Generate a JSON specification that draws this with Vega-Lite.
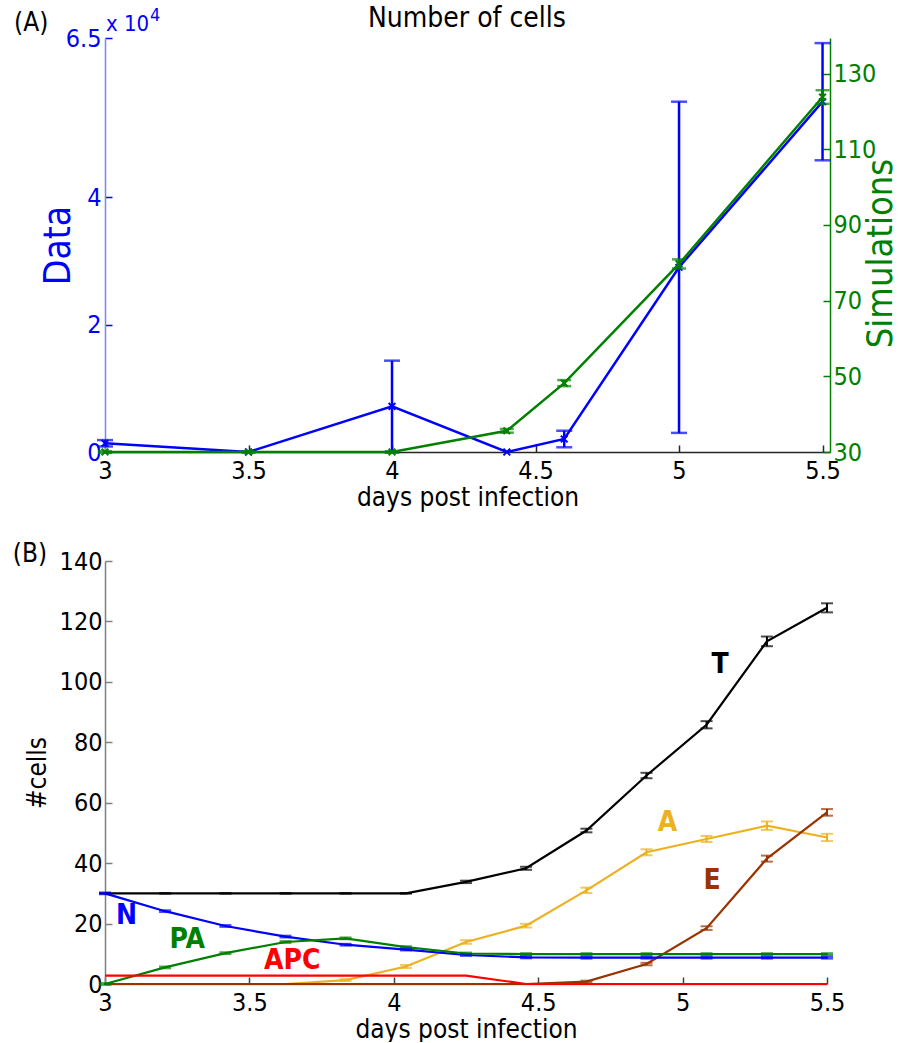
{
  "$schema": "https://vega.github.io/schema/vega-lite/v6.json",
  "background": "white",
  "padding": {"left": 12, "top": 5, "right": 0, "bottom": 0},
  "spacing": 30,
  "config": {
    "font": "DejaVu Sans Condensed, DejaVu Sans",
    "view": {"stroke": null},
    "axis": {
      "grid": false,
      "labelFontSize": 25,
      "titleFontSize": 26,
      "titleFontWeight": "normal",
      "labelColor": "black",
      "titleColor": "black",
      "labelFlush": false,
      "labelOverlap": false,
      "domainWidth": 1.5,
      "tickWidth": 1.5
    }
  },
  "datasets": {
    "obs": [
      {"day": 3, "count": 1370, "sd": 500},
      {"day": 3.5, "count": 0, "sd": 0},
      {"day": 4, "count": 7170, "sd": 7170},
      {"day": 4.4, "count": 0, "sd": 0},
      {"day": 4.6, "count": 2040, "sd": 1300},
      {"day": 5, "count": 29000, "sd": 26000},
      {"day": 5.5, "count": 55000, "sd": 9200}
    ],
    "sim": [
      {"day": 3, "cells": 30, "sd": 0.2},
      {"day": 3.5, "cells": 30, "sd": 0.2},
      {"day": 4, "cells": 30, "sd": 0.2},
      {"day": 4.4, "cells": 35.6, "sd": 0.5},
      {"day": 4.6, "cells": 48.2, "sd": 0.8},
      {"day": 5, "cells": 79.7, "sd": 1.2},
      {"day": 5.5, "cells": 123.8, "sd": 1.8}
    ],
    "cells": [
      {"series": "T", "day": 3, "count": 30, "sd": 0.1},
      {"series": "T", "day": 3.208, "count": 30, "sd": 0.1},
      {"series": "T", "day": 3.417, "count": 30, "sd": 0.1},
      {"series": "T", "day": 3.625, "count": 30, "sd": 0.1},
      {"series": "T", "day": 3.833, "count": 30, "sd": 0.1},
      {"series": "T", "day": 4.042, "count": 30, "sd": 0.1},
      {"series": "T", "day": 4.25, "count": 33.8, "sd": 0.4},
      {"series": "T", "day": 4.458, "count": 38.3, "sd": 0.5},
      {"series": "T", "day": 4.667, "count": 50.8, "sd": 0.6},
      {"series": "T", "day": 4.875, "count": 69, "sd": 0.9},
      {"series": "T", "day": 5.083, "count": 85.8, "sd": 1.2},
      {"series": "T", "day": 5.292, "count": 113.4, "sd": 1.6},
      {"series": "T", "day": 5.5, "count": 124.5, "sd": 1.5},
      {"series": "A", "day": 3, "count": 0, "sd": 0},
      {"series": "A", "day": 3.208, "count": 0, "sd": 0},
      {"series": "A", "day": 3.417, "count": 0, "sd": 0},
      {"series": "A", "day": 3.625, "count": 0, "sd": 0},
      {"series": "A", "day": 3.833, "count": 1.3, "sd": 0.3},
      {"series": "A", "day": 4.042, "count": 5.8, "sd": 0.5},
      {"series": "A", "day": 4.25, "count": 13.9, "sd": 0.6},
      {"series": "A", "day": 4.458, "count": 19.3, "sd": 0.6},
      {"series": "A", "day": 4.667, "count": 31, "sd": 0.9},
      {"series": "A", "day": 4.875, "count": 43.6, "sd": 1},
      {"series": "A", "day": 5.083, "count": 48, "sd": 1},
      {"series": "A", "day": 5.292, "count": 52.4, "sd": 1.4},
      {"series": "A", "day": 5.5, "count": 48.5, "sd": 1.2},
      {"series": "E", "day": 3, "count": 0, "sd": 0},
      {"series": "E", "day": 3.208, "count": 0, "sd": 0},
      {"series": "E", "day": 3.417, "count": 0, "sd": 0},
      {"series": "E", "day": 3.625, "count": 0, "sd": 0},
      {"series": "E", "day": 3.833, "count": 0, "sd": 0},
      {"series": "E", "day": 4.042, "count": 0, "sd": 0},
      {"series": "E", "day": 4.25, "count": 0, "sd": 0},
      {"series": "E", "day": 4.458, "count": 0, "sd": 0},
      {"series": "E", "day": 4.667, "count": 0.8, "sd": 0.3},
      {"series": "E", "day": 4.875, "count": 6.6, "sd": 0.4},
      {"series": "E", "day": 5.083, "count": 18.5, "sd": 0.6},
      {"series": "E", "day": 5.292, "count": 41.5, "sd": 1},
      {"series": "E", "day": 5.5, "count": 56.8, "sd": 1.1},
      {"series": "N", "day": 3, "count": 30, "sd": 0.3},
      {"series": "N", "day": 3.208, "count": 24.1, "sd": 0.3},
      {"series": "N", "day": 3.417, "count": 19.2, "sd": 0.3},
      {"series": "N", "day": 3.625, "count": 15.7, "sd": 0.3},
      {"series": "N", "day": 3.833, "count": 13, "sd": 0.3},
      {"series": "N", "day": 4.042, "count": 11.4, "sd": 0.3},
      {"series": "N", "day": 4.25, "count": 9.6, "sd": 0.3},
      {"series": "N", "day": 4.458, "count": 8.8, "sd": 0.3},
      {"series": "N", "day": 4.667, "count": 8.7, "sd": 0.3},
      {"series": "N", "day": 4.875, "count": 8.7, "sd": 0.3},
      {"series": "N", "day": 5.083, "count": 8.7, "sd": 0.3},
      {"series": "N", "day": 5.292, "count": 8.7, "sd": 0.3},
      {"series": "N", "day": 5.5, "count": 8.7, "sd": 0.3},
      {"series": "PA", "day": 3, "count": 0, "sd": 0.3},
      {"series": "PA", "day": 3.208, "count": 5.5, "sd": 0.3},
      {"series": "PA", "day": 3.417, "count": 10.2, "sd": 0.3},
      {"series": "PA", "day": 3.625, "count": 13.9, "sd": 0.3},
      {"series": "PA", "day": 3.833, "count": 15.1, "sd": 0.3},
      {"series": "PA", "day": 4.042, "count": 12.2, "sd": 0.3},
      {"series": "PA", "day": 4.25, "count": 10.1, "sd": 0.3},
      {"series": "PA", "day": 4.458, "count": 9.9, "sd": 0.3},
      {"series": "PA", "day": 4.667, "count": 9.9, "sd": 0.3},
      {"series": "PA", "day": 4.875, "count": 9.9, "sd": 0.3},
      {"series": "PA", "day": 5.083, "count": 9.9, "sd": 0.3},
      {"series": "PA", "day": 5.292, "count": 9.9, "sd": 0.3},
      {"series": "PA", "day": 5.5, "count": 9.9, "sd": 0.3},
      {"series": "APC", "day": 3, "count": 2.8, "sd": 0},
      {"series": "APC", "day": 3.208, "count": 2.8, "sd": 0},
      {"series": "APC", "day": 3.417, "count": 2.8, "sd": 0},
      {"series": "APC", "day": 3.625, "count": 2.8, "sd": 0},
      {"series": "APC", "day": 3.833, "count": 2.8, "sd": 0},
      {"series": "APC", "day": 4.042, "count": 2.8, "sd": 0},
      {"series": "APC", "day": 4.25, "count": 2.8, "sd": 0},
      {"series": "APC", "day": 4.458, "count": 0, "sd": 0},
      {"series": "APC", "day": 4.667, "count": 0, "sd": 0},
      {"series": "APC", "day": 4.875, "count": 0, "sd": 0},
      {"series": "APC", "day": 5.083, "count": 0, "sd": 0},
      {"series": "APC", "day": 5.292, "count": 0, "sd": 0},
      {"series": "APC", "day": 5.5, "count": 0, "sd": 0}
    ],
    "labels": [
      {"series": "T", "day": 5.13, "count": 105.7},
      {"series": "A", "day": 4.948, "count": 53.3},
      {"series": "E", "day": 5.102, "count": 34.0},
      {"series": "N", "day": 3.075, "count": 22.6},
      {"series": "PA", "day": 3.285, "count": 14.7},
      {"series": "APC", "day": 3.648, "count": 7.5}
    ]
  },
  "vconcat": [
    {
      "width": 725,
      "height": 414,
      "layer": [
        {
          "encoding": {
            "x": {
              "field": "day", "type": "quantitative",
              "scale": {"domain": [3, 5.526], "nice": false, "zero": false},
              "axis": {"values": [3, 3.5, 4, 4.5, 5, 5.5], "format": "~g", "title": "days post infection",
                       "domainColor": "#262626", "tickColor": "#262626", "tickSize": -7, "labelPadding": 13, "titlePadding": 1}
            },
            "y": {
              "field": "count", "type": "quantitative",
              "scale": {"domain": [0, 65000], "nice": false, "zero": false},
              "axis": {"orient": "left", "values": [0, 20000, 40000, 65000],
                       "labelExpr": "format(datum.value / 10000, '~g')",
                       "title": "Data", "titleColor": "#0000ff", "titleFontSize": 37,
                       "labelColor": "#0000ff", "domainColor": "#8080ff", "tickColor": "#0000ff",
                       "tickSize": -7, "labelPadding": 11, "titlePadding": -12}
            }
          },
          "layer": [
            {"data": {"name": "obs"}, "mark": {"type": "line", "color": "#0000ff", "strokeWidth": 2.5}},
            {"data": {"name": "obs"}, "transform": [{"filter": "datum.sd > 0"}],
             "mark": {"type": "errorbar", "color": "#0000ff", "thickness": 2.5, "size": 16, "ticks": {"thickness": 2.5}},
             "encoding": {"yError": {"field": "sd"}}},
            {"data": {"name": "obs"},
             "mark": {"type": "point", "shape": "M-1,-1L1,1M-1,1L1,-1", "filled": false, "size": 45, "strokeWidth": 2, "color": "#0000ff", "opacity": 1}},
            {"data": {"values": [{"day": 2.683, "count": 66100, "txt": "(A)"}]},
             "mark": {"type": "text", "align": "left", "baseline": "alphabetic", "fontSize": 26, "color": "black"},
             "encoding": {"text": {"field": "txt"}}},
            {"data": {"values": [{"day": 4.261, "count": 66727, "txt": "Number of cells"}]},
             "mark": {"type": "text", "align": "center", "baseline": "alphabetic", "fontSize": 28, "color": "black"},
             "encoding": {"text": {"field": "txt"}}},
            {"data": {"values": [{"day": 3, "count": 65000, "txt": "x 10"}]},
             "mark": {"type": "text", "align": "left", "baseline": "alphabetic", "fontSize": 22, "dx": 1, "dy": -7, "color": "#0000ff"},
             "encoding": {"text": {"field": "txt"}}},
            {"data": {"values": [{"day": 3, "count": 65000, "txt": "4"}]},
             "mark": {"type": "text", "align": "left", "baseline": "alphabetic", "fontSize": 18, "dx": 45, "dy": -17, "color": "#0000ff"},
             "encoding": {"text": {"field": "txt"}}}
          ]
        },
        {
          "data": {"name": "sim"},
          "encoding": {
            "x": {
              "field": "day", "type": "quantitative",
              "scale": {"domain": [3, 5.526], "nice": false, "zero": false},
              "axis": {"values": [3, 3.5, 4, 4.5, 5, 5.5], "format": "~g", "title": "days post infection",
                       "domainColor": "#262626", "tickColor": "#262626", "tickSize": -7, "labelPadding": 13, "titlePadding": 1}
            },
            "y": {
              "field": "cells", "type": "quantitative",
              "scale": {"domain": [30, 139.4], "nice": false, "zero": false},
              "axis": {"orient": "right", "values": [30, 50, 70, 90, 110, 130],
                       "title": "Simulations", "titleColor": "#008000", "titleFontSize": 36,
                       "titleAngle": -90, "titleBaseline": "top", "titlePadding": -12, "titleY": 215,
                       "labelColor": "#008000", "domainColor": "#008000", "tickColor": "#008000",
                       "tickSize": -7, "labelPadding": 10}
            }
          },
          "layer": [
            {"mark": {"type": "line", "color": "#008000", "strokeWidth": 2.5}},
            {"mark": {"type": "errorbar", "color": "#008000", "thickness": 2.5, "size": 14, "ticks": {"thickness": 2.5}},
             "encoding": {"yError": {"field": "sd"}}},
            {"mark": {"type": "point", "shape": "M-1,-1L1,1M-1,1L1,-1", "filled": false, "size": 45, "strokeWidth": 2, "color": "#008000", "opacity": 1}}
          ]
        }
      ],
      "resolve": {"scale": {"y": "independent"}}
    },
    {
      "width": 722,
      "height": 423,
      "encoding": {
        "x": {
          "field": "day", "type": "quantitative",
          "scale": {"domain": [3, 5.5], "nice": false, "zero": false},
          "axis": {"values": [3, 3.5, 4, 4.5, 5, 5.5], "format": "~g", "title": "days post infection",
                   "domainColor": "#808080", "tickColor": "#404040", "tickSize": -7, "labelPadding": 13, "titlePadding": 1}
        },
        "y": {
          "field": "count", "type": "quantitative",
          "scale": {"domain": [0, 140], "nice": false, "zero": false},
          "axis": {"values": [0, 20, 40, 60, 80, 100, 120, 140], "title": "#cells",
                   "domainColor": "#808080", "tickColor": "#808080", "tickSize": -7, "labelPadding": 10, "titlePadding": 9}
        }
      },
      "layer": [
        {"data": {"name": "cells"}, "mark": {"type": "line", "strokeWidth": 2.2},
         "encoding": {"color": {"field": "series", "type": "nominal",
           "scale": {"domain": ["T", "A", "E", "N", "PA", "APC"], "range": ["#000000", "#EDB120", "#993300", "#0000ff", "#008000", "#ff0000"]},
           "legend": null}}},
        {"data": {"name": "cells"}, "transform": [{"filter": "datum.sd > 0"}],
         "mark": {"type": "errorbar", "size": 12, "thickness": 2, "ticks": {"thickness": 2}},
         "encoding": {"yError": {"field": "sd"},
           "color": {"field": "series", "type": "nominal",
             "scale": {"domain": ["T", "A", "E", "N", "PA", "APC"], "range": ["#000000", "#EDB120", "#993300", "#0000ff", "#008000", "#ff0000"]},
             "legend": null}}},
        {"data": {"name": "labels"},
         "mark": {"type": "text", "fontWeight": "bold", "fontSize": 28, "align": "center", "baseline": "middle"},
         "encoding": {"text": {"field": "series"},
           "color": {"field": "series", "type": "nominal",
             "scale": {"domain": ["T", "A", "E", "N", "PA", "APC"], "range": ["#000000", "#EDB120", "#993300", "#0000ff", "#008000", "#ff0000"]},
             "legend": null}}},
        {"data": {"values": [{"day": 2.681, "count": 139.8, "txt": "(B)"}]},
         "mark": {"type": "text", "align": "left", "baseline": "alphabetic", "fontSize": 26, "color": "black"},
         "encoding": {"text": {"field": "txt"}}}
      ]
    }
  ]
}
